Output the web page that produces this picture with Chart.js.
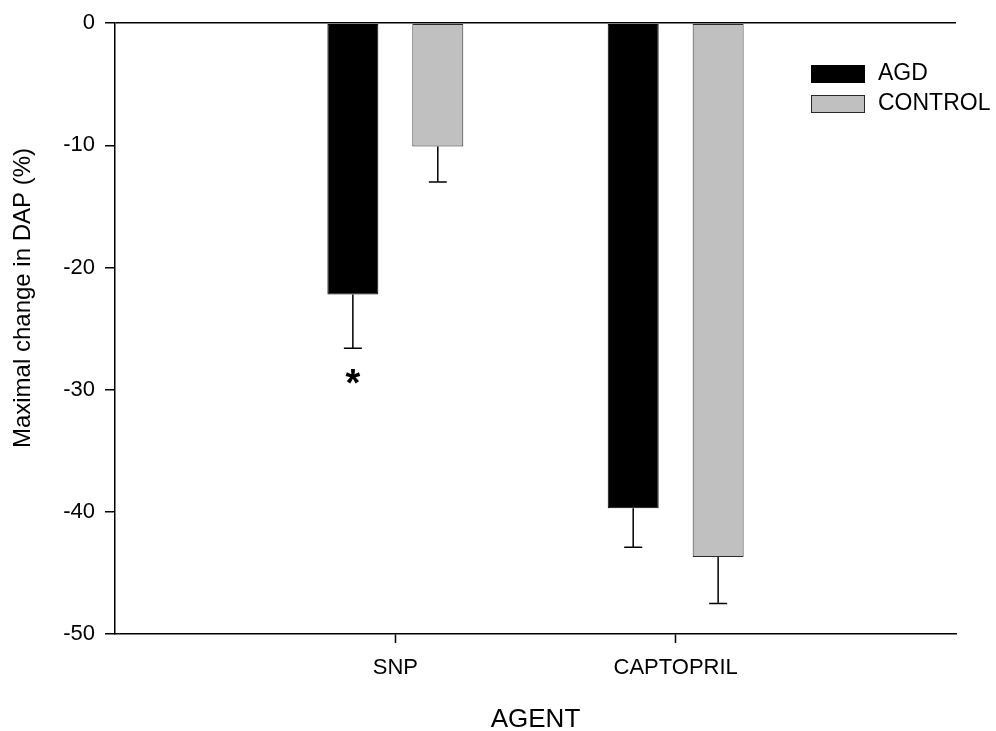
<!DOCTYPE html>
<html>
<head>
<meta charset="utf-8">
<script src="https://cdn.jsdelivr.net/npm/chart.js@4"></script>
<style>
  html, body { margin: 0; padding: 0; background: #fff; }
  #wrap { width: 996px; height: 731px; }
</style>
</head>
<body>
<div id="wrap"><canvas id="myChart" width="996" height="731"></canvas></div>
<script>
// empty labels at the ends put SNP / CAPTOPRIL at 1/3 and 2/3 of the axis
var agents = ["", "SNP", "CAPTOPRIL", ""];
var agdValues = [null, -22.2, -39.7, null];
var agdErrors = [null, 4.4, 3.2, null];
var controlValues = [null, -10.1, -43.7, null];
var controlErrors = [null, 2.9, 3.8, null];
var agdMarks = ["", "*", "", ""];
var yTicks = [0, -10, -20, -30, -40, -50];
var yTitle = "Maximal change in DAP (%)";

var font = "'Liberation Sans', Arial, sans-serif";
Chart.defaults.font.family = font;
Chart.defaults.color = "#000";

var errorBars = {
  id: "errorBars",
  afterDatasetsDraw: function (chart) {
    var ctx = chart.ctx;
    var y = chart.scales.y;
    ctx.save();
    ctx.strokeStyle = "#000";
    ctx.lineWidth = 1.5;
    chart.data.datasets.forEach(function (ds, di) {
      var meta = chart.getDatasetMeta(di);
      ds.data.forEach(function (v, i) {
        if (v === null) return;
        var bar = meta.data[i];
        var yEnd = y.getPixelForValue(v - ds.errors[i]);
        ctx.beginPath();
        ctx.moveTo(bar.x, bar.y);
        ctx.lineTo(bar.x, yEnd);
        ctx.moveTo(bar.x - 9, yEnd);
        ctx.lineTo(bar.x + 9, yEnd);
        ctx.stroke();
        if (ds.marks && ds.marks[i]) {
          ctx.fillStyle = "#000";
          ctx.font = "bold 38px " + font;
          ctx.textAlign = "center";
          ctx.textBaseline = "alphabetic";
          ctx.fillText(ds.marks[i], bar.x, yEnd + 48);
        }
      });
    });
    ctx.restore();
  }
};

// legend boxes at the upper right, plus the y title (sits above the axis centre)
var extras = {
  id: "extras",
  afterDraw: function (chart) {
    var ctx = chart.ctx;
    ctx.save();
    chart.data.datasets.forEach(function (ds, i) {
      var top = 65 + i * 30;
      ctx.fillStyle = ds.backgroundColor;
      ctx.fillRect(811, top, 54, 18);
      ctx.strokeStyle = ds.borderColor;
      ctx.lineWidth = 1;
      ctx.strokeRect(811.5, top + 0.5, 53, 17);
      ctx.fillStyle = "#000";
      ctx.font = "23px " + font;
      ctx.textAlign = "left";
      ctx.textBaseline = "middle";
      ctx.fillText(ds.label, 878, top + 9);
    });
    ctx.translate(30, 298);
    ctx.rotate(-Math.PI / 2);
    ctx.font = "24px " + font;
    ctx.textAlign = "center";
    ctx.textBaseline = "alphabetic";
    ctx.fillStyle = "#000";
    ctx.fillText(yTitle, 0, 0);
    ctx.restore();
  }
};

new Chart("myChart", {
  type: "bar",
  data: {
    labels: agents,
    datasets: [{
      label: "AGD",
      data: agdValues,
      errors: agdErrors,
      marks: agdMarks,
      backgroundColor: "#000000",
      borderColor: "#000000",
      borderWidth: 1,
      borderSkipped: false
    }, {
      label: "CONTROL",
      data: controlValues,
      errors: controlErrors,
      backgroundColor: "#c0c0c0",
      borderColor: "#2a2a2a",
      borderWidth: 1,
      borderSkipped: false
    }]
  },
  options: {
    responsive: false,
    animation: false,
    categoryPercentage: 0.606,
    barPercentage: 0.6,
    layout: { padding: { top: 21, right: 40, bottom: 0, left: 0 } },
    plugins: {
      legend: { display: false },
      tooltip: { enabled: false }
    },
    scales: {
      x: {
        offset: false,
        grid: {
          offset: false,
          drawOnChartArea: false,
          tickLength: 9,
          tickWidth: 1.5,
          tickColor: function (c) { return c.tick && c.tick.label ? "#000" : "rgba(0,0,0,0)"; }
        },
        border: { color: "#000", width: 1.5 },
        ticks: { font: { size: 22 }, padding: 12, maxRotation: 0, autoSkip: false },
        title: {
          display: true,
          text: "AGENT",
          font: { size: 26, lineHeight: 0.85 },
          padding: 0
        },
        afterFit: function (s) { s.height = 97; }
      },
      y: {
        min: -50,
        max: 0,
        afterBuildTicks: function (s) { s.ticks = yTicks.map(function (v) { return { value: v }; }); },
        grid: {
          tickLength: 10,
          tickWidth: 1.5,
          lineWidth: 1.5,
          tickColor: "#000",
          color: function (c) { return c.tick && c.tick.value === 0 ? "#000" : "rgba(0,0,0,0)"; }
        },
        border: { color: "#000", width: 1.5 },
        ticks: { font: { size: 22 }, padding: 10 },
        afterFit: function (s) { s.width = 115; }
      }
    }
  },
  plugins: [errorBars, extras]
});
</script>
</body>
</html>
